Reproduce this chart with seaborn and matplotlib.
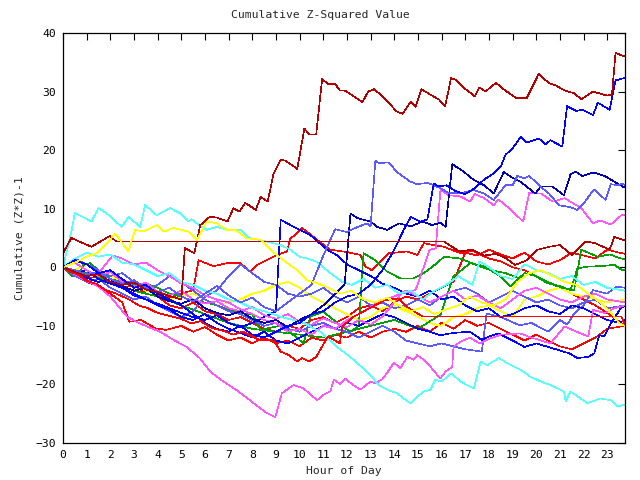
import matplotlib
matplotlib.use("Agg")
import matplotlib.pyplot as plt
import seaborn as sns
import pandas as pd

title = "Cumulative Z-Squared Value"
xlabel = "Hour of Day"
ylabel = "Cumulative (Z*Z)-1"
xticks = list(range(0, 24))
yticks = [-30, -20, -10, 0, 10, 20, 30, 40]

s01 = [(0,0),(0.5,-0.8),(1,-1.5),(1.5,-1.2),(2,-2.5),(2.5,-3.0),(3,-2.6),(3.5,-3.8),(4,-4.2),(4.5,-4.9),(5.0,-5.5),(5.15,3.3),(5.55,2.4),(5.8,7.2),(6.2,8.6),(6.5,8.5),(6.95,7.8),(7.2,10.1),(7.45,9.5),(7.7,11.0),(8.15,9.8),(8.35,12.0),(8.65,11.2),(8.9,16.0),(9.2,18.4),(9.4,18.2),(9.9,16.8),(10.2,23.7),(10.4,22.7),(10.7,22.7),(10.95,32.1),(11.2,31.3),(11.5,31.3),(11.7,30.2),(11.9,30.2),(12.4,28.9),(12.65,28.2),(12.9,30.0),(13.15,30.4),(13.5,29.2),(13.85,27.7),(14.1,26.6),(14.35,26.2),(14.7,28.3),(14.9,27.4),(15.15,30.4),(15.35,29.9),(15.9,28.6),(16.15,27.5),(16.4,32.3),(16.6,32.0),(16.95,30.6),(17.4,29.2),(17.6,30.7),(17.85,30.0),(18.3,31.5),(18.65,30.3),(19.15,28.9),(19.6,28.9),(20.1,33.0),(20.55,31.4),(20.8,31.1),(21.2,30.2),(21.6,29.7),(21.9,28.7),(22.4,30.0),(23.0,29.3),(23.2,29.5),(23.35,36.6),(23.6,36.2),(23.75,36.0)]
s02 = [(0,2.4),(0.35,5.0),(1.2,3.5),(1.98,5.35),(2.25,4.4),(16.1,4.4),(16.75,2.7),(17.3,3.0),(17.8,2.0),(18.3,2.3),(18.7,1.6),(19.1,0.4),(19.6,1.2),(20.05,3.0),(20.55,3.5),(21.0,3.8),(21.5,2.1),(22.1,4.4),(22.5,4.1),(23.1,3.0),(23.3,5.2),(23.6,4.8),(23.75,4.6)]
s03 = [(0,0),(0.3,-0.8),(0.6,-1.2),(1.0,-2.3),(1.4,-2.8),(1.8,-3.9),(2.2,-4.4),(2.8,-5.5),(3.2,-6.5),(3.6,-7.0),(4.0,-7.8),(4.5,-8.3),(5.0,-8.8),(5.4,-9.6),(5.8,-9.2),(6.3,-10.4),(6.8,-10.9),(7.2,-11.5),(7.6,-11.0),(8.0,-11.8),(8.3,-12.4),(8.9,-12.4),(9.2,-14.4),(9.55,-15.0),(9.9,-16.1),(10.1,-15.5),(10.4,-16.1),(10.7,-15.3),(11.2,-11.8),(11.7,-13.0),(11.8,-10.1),(12.3,-8.4),(12.95,-7.0),(13.6,-5.6),(14.2,-5.3),(14.5,-6.7),(15.2,-8.4),(23.6,-8.4),(23.75,-9.9)]
s04 = [(0,0),(0.5,-1.2),(1,-2.3),(1.5,-3.3),(2,-5.0),(2.7,-8.4),(3.1,-9.3),(3.54,-10.1),(4.1,-11.0),(4.67,-12.4),(5.23,-13.6),(5.8,-15.6),(6.22,-17.8),(6.78,-19.5),(7.35,-21.0),(7.9,-22.7),(8.34,-24.1),(8.62,-24.9),(8.97,-25.6),(9.25,-21.5),(9.75,-20.1),(10.17,-20.7),(10.74,-22.7),(11.0,-21.8),(11.3,-21.2),(11.44,-19.2),(11.72,-19.9),(11.93,-19.0),(12.2,-19.9),(12.57,-20.9),(12.99,-19.5),(13.2,-19.8),(13.5,-19.1),(13.7,-18.0),(13.98,-16.3),(14.26,-17.2),(14.55,-15.3),(14.82,-15.8),(14.97,-15.0),(15.25,-15.8),(15.53,-17.0),(15.95,-19.0),(16.17,-17.8),(16.45,-17.0),(16.5,-13.6),(16.8,-12.7),(17.2,-12.0),(17.6,-13.0),(17.9,-12.4),(18.5,-11.5),(19.3,-11.3),(19.8,-12.0),(20.6,-13.0),(21.2,-10.1),(21.7,-11.0),(22.2,-11.8),(22.4,-7.3),(22.9,-7.8),(23.3,-7.0),(23.75,-6.5)]
s05 = [(0,0),(0.5,0.8),(1,-0.5),(1.5,-1.5),(2,-0.8),(2.5,-2.5),(3,-3.2),(3.5,-2.6),(4,-4.2),(4.5,-4.8),(5,-4.0),(5.5,-5.5),(6,-6.2),(6.5,-5.8),(7,-7.0),(7.5,-7.5),(8,-6.8),(8.5,-8.2),(9,-8.8),(9.5,-8.0),(10,-9.3),(10.5,-9.8),(11,-8.7),(11.5,-9.5),(12,-10.2),(12.5,-9.0),(13,-9.8),(13.5,-8.4),(13.9,-6.5),(14.3,-4.5),(14.9,-3.9),(15.5,3.0),(15.75,3.2),(15.95,13.2),(16.3,12.3),(16.8,12.1),(17.2,11.2),(17.4,12.5),(17.8,11.8),(18.2,10.6),(18.4,11.6),(18.85,10.1),(19.45,7.8),(19.7,12.7),(20.2,12.6),(20.7,11.2),(21.2,11.8),(21.9,10.1),(22.4,7.5),(22.7,8.0),(23.15,7.3),(23.6,8.9),(23.75,9.0)]
s06 = [(0,0),(0.5,-0.5),(1,-1.5),(1.5,-1.0),(2.1,2.0),(2.5,1.5),(3,0.5),(3.5,0.8),(4,-0.5),(4.5,-1.5),(5,-2.8),(5.5,-3.5),(6,-4.8),(6.5,-5.5),(7,-6.0),(7.5,-7.2),(8,-8.0),(8.5,-9.0),(9,-9.5),(9.5,-11.0),(10,-10.5),(10.5,-11.5),(11,-10.0),(11.5,-10.5),(12,-9.0),(12.5,-8.0),(13,-6.8),(13.5,-5.5),(14,-5.0),(14.5,-4.0),(15,-5.0),(15.5,-6.0),(16,-5.0),(16.5,-4.0),(17,-5.5),(17.5,-4.8),(18,-6.0),(18.5,-7.0),(19,-5.5),(19.5,-4.0),(20,-3.5),(20.5,-4.5),(21,-5.5),(21.5,-6.0),(22,-5.0),(22.5,-4.5),(23,-5.5),(23.75,-6.0)]
s07 = [(0,0),(0.37,6.4),(0.5,9.3),(0.93,8.4),(1.2,7.8),(1.5,10.1),(1.85,9.2),(2.48,6.9),(2.77,8.6),(3.26,6.9),(3.47,10.6),(3.96,8.9),(4.53,10.1),(4.95,9.2),(5.3,7.8),(5.45,8.2),(5.8,7.0),(6.08,6.4),(6.5,6.9),(6.93,6.4),(7.5,6.4),(7.9,4.95),(8.3,4.7),(9.2,3.8),(9.6,3.0),(10.0,1.8),(10.3,1.5),(10.7,1.0),(11.3,-1.0),(11.8,-2.5),(12.2,-3.0),(12.7,-2.0),(13.2,-3.5),(13.7,-3.0),(14.2,-4.5),(14.7,-4.0),(15.2,-5.5),(15.7,-4.0),(16.2,-3.0),(16.7,-1.5),(17.3,-3.0),(17.6,1.0),(18.0,0.0),(18.5,-1.5),(19.0,-2.0),(19.5,0.5),(20.0,-0.5),(20.5,-1.0),(21.0,-2.0),(21.5,-1.5),(22.0,-3.0),(22.5,-2.5),(23.0,-3.5),(23.75,-4.0)]
s08 = [(0,0),(0.5,1.5),(1,2.5),(1.5,1.8),(2,2.2),(2.5,0.8),(3,0.5),(3.5,-0.5),(4,-1.5),(4.5,-1.0),(5,-2.5),(5.5,-3.0),(6,-4.0),(6.5,-4.5),(7,-5.5),(7.5,-6.0),(8,-7.0),(8.5,-7.5),(9,-8.2),(9.5,-8.8),(10,-9.2),(10.4,-10.0),(10.88,-11.0),(11.58,-13.6),(12.29,-15.8),(12.99,-18.4),(13.34,-20.1),(13.7,-20.9),(14.12,-21.5),(14.4,-22.4),(14.68,-23.2),(14.97,-22.1),(15.25,-21.2),(15.53,-20.9),(15.74,-19.2),(16.0,-19.5),(16.4,-18.1),(16.8,-19.5),(17.36,-20.7),(17.65,-16.1),(17.93,-16.7),(18.42,-15.5),(18.78,-16.4),(19.34,-17.5),(19.76,-18.7),(20.19,-19.5),(20.6,-20.1),(21.17,-21.2),(21.24,-22.9),(21.45,-21.2),(22.16,-23.2),(22.7,-22.4),(23.15,-22.7),(23.43,-23.8),(23.64,-23.5),(23.75,-23.6)]
s09 = [(0,0),(0.5,-0.5),(1,-1.2),(1.5,-0.8),(2,-2.0),(2.5,-2.8),(3,-2.2),(3.5,-3.5),(4,-4.2),(4.5,-3.5),(5,-5.0),(5.5,-5.8),(6,-4.5),(6.5,-3.2),(7,-4.8),(7.5,-6.0),(8,-5.2),(8.5,-6.8),(9,-7.5),(9.5,-6.0),(10,-4.5),(10.5,-3.0),(11,2.0),(11.5,6.5),(12,6.0),(12.4,6.8),(12.85,7.5),(13.0,7.0),(13.2,18.2),(13.35,17.8),(13.77,17.9),(14.1,16.3),(14.68,14.6),(14.97,14.2),(15.4,14.4),(15.67,14.0),(15.95,13.5),(16.3,12.7),(16.8,12.6),(17.36,13.2),(17.8,12.6),(18.2,11.5),(18.7,14.0),(19.0,14.0),(19.2,15.6),(19.5,15.2),(19.7,15.6),(20.26,13.5),(20.54,12.6),(20.96,10.6),(21.4,10.3),(21.74,9.8),(22.0,10.9),(22.44,13.3),(22.93,11.5),(23.15,14.2),(23.43,14.0),(23.64,14.3),(23.75,14.0)]
s10 = [(0,0),(0.5,-0.8),(1,-1.5),(1.5,-1.0),(2,-2.5),(2.5,-3.2),(3,-4.0),(3.5,-3.5),(4,-5.0),(4.5,-5.8),(5,-6.2),(5.5,-5.5),(6,-7.0),(6.5,-7.8),(7,-8.2),(7.5,-7.5),(8,-8.8),(8.5,-9.5),(9,-9.0),(9.5,-10.2),(10,-9.0),(10.5,-8.0),(11,-6.5),(11.5,-4.5),(11.9,-3.0),(12.15,9.2),(12.43,8.4),(13.0,7.8),(13.27,6.9),(13.7,6.4),(14.2,7.5),(14.7,7.0),(15.2,7.8),(15.6,7.2),(15.95,7.6),(16.17,6.9),(16.45,17.6),(16.94,16.3),(17.36,14.9),(17.8,14.0),(18.2,12.6),(18.63,16.3),(18.9,15.5),(19.34,14.6),(19.96,12.6),(20.19,13.8),(20.68,13.8),(21.17,12.3),(21.45,15.9),(21.67,16.3),(21.95,15.6),(22.44,16.2),(22.93,15.5),(23.64,13.8),(23.75,13.6)]
s11 = [(0,0),(0.5,1.2),(1,0.5),(1.5,-1.0),(2,-0.5),(2.5,-2.0),(3,-3.5),(3.5,-3.0),(4,-4.5),(4.5,-5.5),(5,-6.5),(5.5,-8.0),(6,-9.5),(6.5,-10.5),(7,-11.0),(7.5,-10.0),(8,-11.5),(8.5,-12.0),(9,-11.0),(9.5,-10.0),(10,-9.5),(10.5,-8.0),(11,-7.5),(11.5,-6.0),(12,-5.0),(12.5,-4.5),(13,-3.0),(13.5,-0.5),(14.0,3.0),(14.4,6.4),(14.7,8.6),(15.1,7.8),(15.4,8.2),(15.67,14.3),(15.88,13.8),(16.2,14.0),(16.6,13.0),(17.0,12.5),(17.4,13.5),(17.8,15.0),(18.2,16.0),(18.5,17.2),(18.7,19.2),(19.0,20.3),(19.35,22.3),(19.6,21.3),(20.1,22.0),(20.4,21.0),(20.6,21.7),(21.1,20.6),(21.3,27.5),(21.7,26.7),(21.95,26.9),(22.4,26.0),(22.6,28.1),(23.1,26.9),(23.35,31.9),(23.6,32.2),(23.75,32.3)]
s12 = [(0,0),(0.5,-1.0),(1,-0.5),(1.5,-2.0),(2,-2.8),(2.5,-3.5),(3,-4.5),(3.5,-5.5),(4,-6.2),(4.5,-7.0),(5,-7.8),(5.5,-8.5),(6,-9.0),(6.5,-8.2),(7,-9.5),(7.5,-10.2),(8,-9.5),(8.5,-8.5),(9.0,-7.5),(9.2,8.1),(9.75,6.9),(10.45,5.5),(11.16,3.0),(11.6,2.0),(12.0,0.5),(12.5,-0.5),(13.0,-1.5),(13.5,-2.8),(14.0,-3.5),(14.5,-4.5),(15.0,-5.0),(15.5,-4.0),(16.0,-5.5),(16.5,-5.0),(17.0,-6.5),(17.5,-7.5),(18.0,-7.0),(18.5,-8.5),(19.0,-8.0),(19.5,-7.0),(20.0,-6.5),(20.5,-7.5),(21.0,-8.0),(21.5,-6.5),(22.0,-7.0),(22.5,-8.0),(23.0,-9.0),(23.5,-9.5),(23.75,-9.0)]
s13 = [(0,0),(0.5,-0.5),(1,-1.8),(1.5,-2.5),(2,-2.0),(2.5,-3.5),(3,-4.8),(3.5,-5.5),(4,-6.5),(4.5,-7.2),(5,-8.5),(5.5,-9.0),(6,-8.0),(6.5,-9.5),(7,-10.5),(7.5,-11.2),(8,-12.0),(8.5,-11.0),(9,-12.5),(9.5,-13.0),(10,-12.0),(10.5,-11.0),(11,-10.0),(11.5,-10.5),(12,-9.5),(12.5,-10.0),(13,-9.0),(13.5,-8.0),(14,-8.5),(14.5,-9.5),(15,-10.5),(15.5,-11.0),(15.95,-11.6),(16.5,-11.2),(17.2,-11.0),(17.7,-12.4),(18.0,-11.8),(18.4,-11.3),(19.0,-12.5),(19.5,-13.6),(20.0,-13.0),(20.5,-13.6),(21.0,-14.2),(21.4,-14.7),(21.74,-15.5),(22.2,-15.3),(22.45,-14.7),(22.66,-11.6),(22.87,-11.8),(23.15,-9.6),(23.57,-7.0),(23.75,-6.5)]
s14 = [(0,0),(0.5,1.5),(1,0.5),(1.5,-0.5),(2,-1.5),(2.5,-1.0),(3,-2.5),(3.5,-3.8),(4,-3.0),(4.5,-1.5),(5,-2.5),(5.5,-4.0),(6,-5.5),(6.5,-6.5),(7,-7.5),(7.5,-8.0),(8,-9.0),(8.5,-10.0),(9,-9.5),(9.5,-10.5),(10,-11.0),(10.5,-10.0),(11,-9.5),(11.5,-10.5),(12,-11.0),(12.5,-12.0),(13,-11.0),(13.5,-10.0),(14,-11.0),(14.5,-12.5),(15,-13.0),(15.5,-13.5),(16,-13.0),(16.5,-13.5),(17,-14.0),(17.7,-14.4),(17.9,-7.9),(18.5,-8.5),(19.3,-9.9),(19.8,-9.5),(20.5,-11.0),(21.0,-9.0),(21.3,-9.8),(21.6,-7.9),(22.0,-6.5),(22.4,-3.9),(23.0,-4.5),(23.4,-3.3),(23.75,-3.5)]
s15 = [(0,0),(0.5,-1.5),(1,-2.5),(1.5,-2.0),(2,-3.5),(2.5,-4.5),(3,-5.5),(3.5,-5.0),(4,-6.5),(4.5,-7.5),(5,-8.5),(5.5,-7.5),(6,-5.0),(6.5,-4.0),(7,-1.5),(7.5,0.5),(8,-1.0),(8.5,-2.5),(9,-3.0),(9.5,-4.5),(10,-5.0),(10.5,-4.5),(11,-3.5),(11.5,-5.0),(12,-6.0),(12.5,-5.0),(13,-6.5),(13.5,-6.0),(14,-7.0),(14.5,-6.5),(15,-5.5),(15.5,-6.5),(16,-5.0),(16.5,-4.0),(17,-3.5),(17.5,-4.5),(18,-6.0),(18.5,-5.0),(19,-4.0),(19.5,-5.0),(20,-6.0),(20.5,-5.5),(21,-6.5),(21.5,-7.0),(22,-6.0),(22.5,-5.5),(23,-7.0),(23.75,-6.5)]
s16 = [(0,0),(0.4,-1.5),(0.72,-0.75),(0.86,0.4),(1.14,0.7),(1.5,-0.5),(2,-2.0),(2.5,-2.5),(3,-3.0),(3.5,-2.8),(4,-3.5),(4.5,-4.5),(5,-5.0),(5.5,-5.8),(6,-6.0),(6.5,-6.5),(7,-7.2),(7.5,-7.8),(8,-8.0),(8.34,-10.7),(9.25,-9.9),(9.75,-11.6),(10.17,-13.0),(10.45,-8.4),(11.0,-7.6),(11.72,-9.9),(12.15,-11.0),(12.5,-10.0),(12.7,2.4),(13.2,1.2),(13.7,-0.75),(14.26,-1.9),(14.8,-1.9),(15.25,-1.0),(15.8,0.7),(16.1,1.8),(16.8,1.5),(17.4,0.5),(18.07,-0.5),(18.7,-1.0),(19.3,-1.9),(19.76,-1.0),(20.46,-2.7),(21.0,-3.2),(21.45,-3.9),(21.74,-0.2),(22.16,0.1),(22.7,0.2),(23.3,0.4),(23.64,-0.5),(23.75,-0.5)]
s17 = [(0,0),(1,-1.0),(2,-2.5),(3,-4.0),(4,-5.0),(5,-6.5),(6,-8.0),(7,-9.5),(8,-10.5),(9,-11.0),(10,-11.5),(11,-12.0),(12,-11.0),(13,-10.0),(14,-9.0),(15,-10.5),(15.95,-8.1),(16.5,-1.6),(17.2,0.7),(17.8,0.2),(18.5,-1.6),(18.9,-3.3),(19.5,-1.0),(20.0,-1.5),(20.6,-2.7),(21.1,-3.5),(21.6,-3.9),(21.9,3.0),(22.6,1.8),(23.1,2.2),(23.57,1.5),(23.75,1.4)]
s18 = [(0,0),(0.5,0.8),(1.0,1.8),(1.43,2.4),(1.99,4.7),(2.2,5.8),(2.76,2.7),(3.05,6.4),(3.4,6.1),(3.96,7.2),(4.25,6.1),(4.67,6.7),(5.3,6.1),(5.66,4.7),(6.08,7.8),(6.5,7.5),(6.93,6.4),(7.28,6.4),(7.77,4.95),(8.34,4.7),(8.76,3.0),(9.32,1.2),(9.9,-0.5),(10.3,-2.2),(10.74,-2.7),(11.2,-3.5),(11.7,-4.5),(12.2,-4.0),(12.7,-5.5),(13.2,-6.0),(13.7,-5.2),(14.2,-6.5),(14.7,-7.5),(15.2,-6.8),(15.7,-8.0),(16.2,-7.2),(16.7,-6.5),(17.2,-5.0),(17.7,-6.0),(18.2,-6.5),(18.7,-5.5),(19.2,-2.5),(19.7,-1.0),(20.2,-0.5),(20.7,-1.5),(21.2,-2.5),(21.7,-3.0),(22.2,-4.5),(22.7,-6.0),(23.2,-8.0),(23.5,-9.5),(23.75,-10.0)]
s19 = [(0,0),(0.5,-0.5),(1,0.5),(1.5,-0.5),(2,-1.5),(2.5,-2.5),(3,-3.0),(3.5,-4.0),(4,-4.5),(4.5,-5.5),(5,-5.0),(5.5,-4.5),(6,-5.5),(6.5,-6.5),(7,-6.0),(7.5,-5.5),(8,-4.5),(8.5,-4.0),(9,-3.0),(9.5,-2.5),(10,-3.5),(10.5,-5.0),(11,-6.0),(11.5,-7.0),(12,-8.0),(12.5,-9.0),(13,-8.5),(13.5,-7.0),(14,-6.5),(14.5,-7.5),(15,-8.5),(15.5,-9.5),(16,-10.0),(16.5,-8.5),(17,-8.0),(17.5,-7.0),(18,-6.5),(18.5,-7.5),(19,-8.5),(19.5,-5.5),(20,-5.0),(20.5,-4.0),(21,-3.5),(21.5,-4.5),(22,-5.0),(22.5,-5.5),(23,-6.0),(23.75,-5.5)]
s20 = [(0,0),(0.5,-1.0),(1,-1.8),(1.5,-2.5),(2,-2.0),(2.5,-3.2),(3,-4.0),(3.5,-3.5),(4,-4.8),(4.5,-5.2),(5,-4.5),(5.5,-3.9),(5.73,1.2),(6.36,0.2),(6.93,0.7),(7.5,0.7),(7.9,-0.75),(8.2,0.4),(9.04,2.1),(9.47,2.7),(9.6,4.95),(9.82,5.5),(10.1,6.7),(10.3,6.1),(10.74,4.7),(11.3,3.0),(12.0,2.6),(12.57,2.1),(12.78,0.1),(13.06,-0.5),(13.34,0.7),(13.77,2.4),(14.54,2.7),(14.97,2.1),(15.25,4.1),(16.1,3.5),(16.8,2.4),(17.3,2.8),(18.0,1.5),(18.5,1.0),(19.0,0.0),(19.5,-0.5),(20.0,-1.5),(20.5,-2.5),(21.0,-3.5),(21.5,-4.5),(22.0,-5.5),(22.5,-6.5),(23.0,-7.8),(23.5,-9.2),(23.75,-10.0)]
s21 = [(0,0),(0.5,-0.8),(1,-2.0),(1.5,-1.5),(2,-2.8),(2.5,-3.5),(3,-3.0),(3.5,-4.5),(4,-5.0),(4.5,-6.5),(5,-7.0),(5.5,-6.0),(6,-7.5),(6.5,-8.0),(7,-9.0),(7.5,-8.5),(8,-9.5),(8.5,-10.5),(9,-11.0),(9.5,-10.0),(10,-10.5),(10.5,-9.0),(11,-8.5),(11.5,-9.5),(12,-8.5),(12.5,-7.0),(13,-6.5),(13.5,-7.5),(14,-6.0),(14.5,-5.0),(15,-5.5),(15.5,-4.5),(16,-3.5),(16.5,-2.5),(17.0,2.5),(17.5,2.0),(18.0,3.0),(18.5,2.2),(19.0,1.5),(19.5,2.5),(20.0,1.0),(20.5,0.5),(21.0,1.2),(21.5,2.5),(22.0,2.0),(22.5,1.5),(23.0,3.0),(23.5,2.5),(23.75,2.3)]
s22 = [(0,0),(0.5,-1.5),(1,-2.5),(1.5,-3.2),(2,-4.5),(2.5,-6.0),(2.8,-9.3),(3.3,-9.0),(3.9,-10.4),(4.35,-10.7),(5,-10.0),(5.5,-11.0),(6,-10.2),(6.5,-11.5),(7,-12.5),(7.5,-12.0),(8,-13.0),(8.5,-12.0),(9,-13.0),(9.5,-12.5),(10,-13.5),(10.5,-12.0),(11,-12.5),(11.5,-11.5),(12,-12.0),(12.5,-11.0),(13,-12.0),(13.5,-11.0),(14,-10.5),(14.5,-11.0),(15,-10.0),(15.5,-11.0),(16,-9.5),(16.5,-10.5),(17,-9.0),(17.5,-10.0),(18,-9.5),(18.5,-10.5),(19,-11.5),(19.5,-12.5),(20,-11.5),(20.5,-12.5),(21,-13.5),(21.5,-14.0),(22,-13.0),(22.5,-12.0),(23,-10.5),(23.75,-10.0)]

series_values = [s22, s21, s20, s19, s17, s16, s15, s14, s13, s12, s06, s05, s04, s08, s07, s10, s09, s11, s03, s02, s01, s18]
series_colors = ["#ff0000", "#ff0000", "#ff0000", "#ffff00", "#00a000", "#00a000", "#5a5aff", "#5a5aff",
                 "#0000ff", "#0000ff", "#ff55ff", "#ff55ff", "#ff55ff", "#55ffff", "#55ffff", "#0000b0",
                 "#5a5aff", "#0000ff", "#ff0000", "#b00000", "#b00000", "#ffff00"]

rows = []
for i, s in enumerate(series_values):
    for h, v in s:
        rows.append({"series": f"S{i:02d}", "hour": h, "value": v})
df = pd.DataFrame(rows)
palette = {f"S{i:02d}": c for i, c in enumerate(series_colors)}

sns.set_style("white")
plt.rcParams["font.family"] = ["DejaVu Sans Mono", "DejaVu Sans"]

fig = plt.figure(figsize=(6.4, 4.8), dpi=100)
ax = fig.add_axes([63/640, 1 - 443/480, (625 - 63)/640, (443 - 33)/480])
sns.lineplot(data=df, x="hour", y="value", hue="series", palette=palette,
             estimator=None, sort=False, legend=False, linewidth=0.45,
             antialiased=False, ax=ax)

ax.set_xlim(0, 23.75)
ax.set_ylim(-30, 40)
ax.set_xticks(xticks)
ax.set_yticks(yticks)
ax.tick_params(direction="in", length=5, width=0.8, top=True, right=True,
               labelsize=8.2, colors="black", pad=5)
for sp in ax.spines.values():
    sp.set_linewidth(0.9)
    sp.set_color("black")
ax.set_xlabel(xlabel, fontsize=8.2, labelpad=4)
ax.set_ylabel(ylabel, fontsize=8.2, labelpad=8)
fig.text(0.5, 1 - 15/480, title, ha="center", va="center", fontsize=8.2)

fig.savefig("out.png", dpi=100)
